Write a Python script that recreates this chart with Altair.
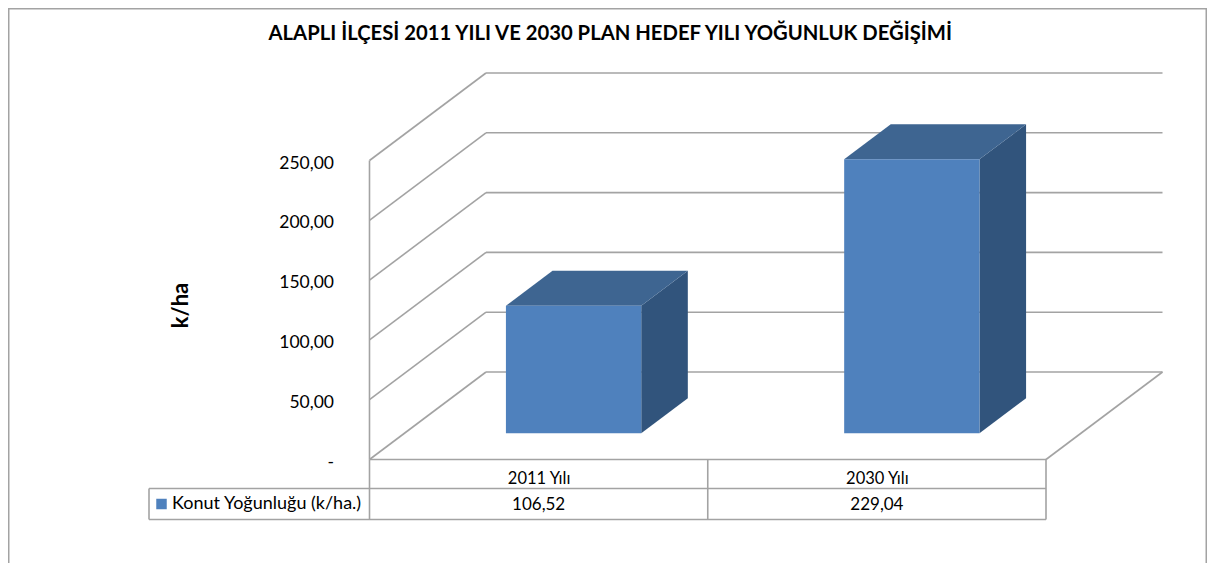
import altair as alt
import pandas as pd

TITLE = "ALAPLI İLÇESİ 2011 YILI VE 2030 PLAN HEDEF YILI YOĞUNLUK DEĞİŞİMİ"
categories = ["2011 Yılı", "2030 Yılı"]
values = [106.52, 229.04]
value_labels = ["106,52", "229,04"]
y_ticks = [0, 50, 100, 150, 200, 250]
series_name = "Konut Yoğunluğu (k/ha.)"
y_title = "k/ha"

FONT = "Lato"
GREY = "#a3a3a3"
FRONT, TOP, SIDE = "#4f81bd", "#3e6591", "#31547c"

# scale of the drawing (an oblique 3-D projection expressed in data units)
PX_PER_CAT = 338.25
PX_PER_VAL = 1.196
WIDTH, HEIGHT = 793.5, 387.5
DEPTH_X = 116.5 / PX_PER_CAT     # wall depth in category units
DEPTH_Y = 87.5 / PX_PER_VAL      # wall depth in value units
BAR_WIDTH = 0.40
BAR_DEPTH0, BAR_DEPTH1 = 0.30, 0.70
ROW1 = -29 / PX_PER_VAL          # first table row bottom
ROW2 = -60 / PX_PER_VAL          # second table row bottom
LEG_L = -220.5 / PX_PER_CAT      # left edge of the legend cell

xs = alt.Scale(domain=[0, WIDTH / PX_PER_CAT], nice=False, zero=False)
ys = alt.Scale(domain=[0, HEIGHT / PX_PER_VAL], nice=False, zero=False)

# ---- frame lines, gridlines, table lines
segs = []
for v in y_ticks:
    segs.append((0, v, DEPTH_X, v + DEPTH_Y))
    segs.append((DEPTH_X, v + DEPTH_Y, 2 + DEPTH_X, v + DEPTH_Y))
segs += [
    (0, 0, 0, 250),
    (0, 0, 2, 0),
    (2, 0, 2 + DEPTH_X, DEPTH_Y),
    (0, ROW1, 2, ROW1),
    (LEG_L, ROW2, 2, ROW2),
    (LEG_L, ROW1, 0, ROW1),
    (LEG_L, ROW1, LEG_L, ROW2),
    (0, 0, 0, ROW2),
    (1, 0, 1, ROW2),
    (2, 0, 2, ROW2),
]
seg_df = pd.DataFrame(segs, columns=["x", "y", "x2", "y2"])

y_axis = alt.Axis(
    values=y_ticks, domain=False, ticks=False, grid=False,
    labelExpr="datum.value == 0 ? '-\u00a0\u00a0' : replace(format(datum.value, '.2f'), '.', ',')",
    labelFont=FONT, labelFontSize=17.5, labelColor="#000000", labelPadding=36,
    labelOffset=2.5, title=y_title, titleFont=FONT, titleFontSize=22,
    titleFontWeight="bold", titleColor="#000000", titleX=-189, titleY=233,
    titleAngle=270, titleAlign="center", titleBaseline="middle",
)
x_axis = alt.Axis(
    values=[0.5, 1.5], domain=False, ticks=False, grid=False,
    labelExpr="datum.value < 1 ? '%s' : '%s'" % tuple(categories),
    labelFont=FONT, labelFontSize=16.5, labelColor="#000000", labelPadding=10.5,
    labelAngle=0, title=None,
)
X = alt.X("x:Q", scale=xs, axis=x_axis)
Y = alt.Y("y:Q", scale=ys, axis=y_axis)

lines = alt.Chart(seg_df).mark_rule(color=GREY, strokeWidth=1.6).encode(
    x=X, x2="x2:Q", y=Y, y2="y2:Q",
)

# ---- outer chart frame (runs past the bottom of the picture)
frame = alt.Chart(pd.DataFrame({"a": [0]})).mark_rect(
    fillOpacity=0, stroke=GREY, strokeWidth=1.5
).encode(
    x=alt.value(-360.75), x2=alt.value(836.75),
    y=alt.value(-63.25), y2=alt.value(600),
)

# ---- bars
front, top, side = [], [], []
for i, (c, v) in enumerate(zip(categories, values)):
    xl = i + 0.5 - BAR_WIDTH / 2 + BAR_DEPTH0 * DEPTH_X
    xr = xl + BAR_WIDTH
    y0 = BAR_DEPTH0 * DEPTH_Y
    d_x = (BAR_DEPTH1 - BAR_DEPTH0) * DEPTH_X
    d_y = (BAR_DEPTH1 - BAR_DEPTH0) * DEPTH_Y
    front.append(dict(c=c, x=xl, x2=xr, y=y0, y2=y0 + v))
    top.append(dict(c=c, y=y0 + v, x=xl, x2=xr))
    top.append(dict(c=c, y=y0 + v + d_y, x=xl + d_x, x2=xr + d_x))
    side.append(dict(c=c, x=xr, y=y0, y2=y0 + v))
    side.append(dict(c=c, x=xr + d_x, y=y0 + d_y, y2=y0 + v + d_y))

front_l = alt.Chart(pd.DataFrame(front)).mark_rect(color=FRONT).encode(
    x=X, x2="x2:Q", y=Y, y2="y2:Q",
)
top_l = alt.Chart(pd.DataFrame(top)).mark_area(color=TOP, orient="horizontal").encode(
    x=X, x2="x2:Q", y=Y, detail="c:N",
)
side_l = alt.Chart(pd.DataFrame(side)).mark_area(color=SIDE, orient="vertical").encode(
    x=X, y=Y, y2="y2:Q", detail="c:N",
)

# ---- data table: values row and legend cell
ROW2_MID = (ROW1 + ROW2) / 2
table_df = pd.DataFrame({"x": [0.5, 1.5], "y": [ROW2_MID] * 2, "t": value_labels})
table_text = alt.Chart(table_df).mark_text(
    font=FONT, fontSize=17, color="#000000", baseline="middle", dy=1
).encode(x=X, y=Y, text="t:N")
leg_sw = alt.Chart(pd.DataFrame({"x": [LEG_L + 12.5 / PX_PER_CAT], "y": [ROW2_MID]})).mark_square(
    color=FRONT, opacity=1, size=110
).encode(x=X, y=Y)
leg_text = alt.Chart(pd.DataFrame({"x": [LEG_L + 23 / PX_PER_CAT], "y": [ROW2_MID], "t": [series_name]})).mark_text(
    font=FONT, fontSize=18, color="#000000", align="left", baseline="middle"
).encode(x=X, y=Y, text="t:N")

chart = alt.layer(
    lines, frame, side_l, top_l, front_l, table_text, leg_sw, leg_text
).properties(
    width=WIDTH, height=HEIGHT,
    padding={"left": 361.5, "top": 64, "right": 44, "bottom": 103},
    autosize=alt.AutoSizeParams(type="none"),
    title=alt.TitleParams(
        TITLE, font=FONT, fontSize=20.25, fontWeight="bold", color="#000000",
        anchor="middle", dx=-156, offset=-36,
    ),
).configure_view(stroke=None)

chart.save("out.html", embed_options={"renderer": "svg", "actions": False})
